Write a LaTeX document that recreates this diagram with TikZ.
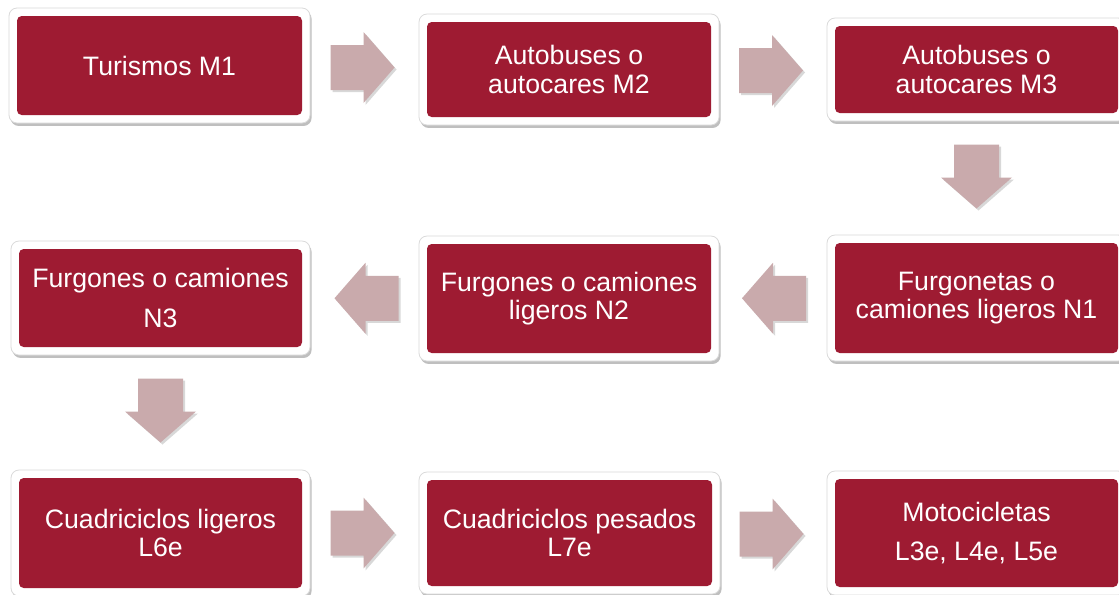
\documentclass[tikz,border=0pt]{standalone}
\usepackage{fontspec}
\setmainfont{Liberation Sans}
\usetikzlibrary{calc,shadows}
\definecolor{boxred}{RGB}{158,27,50}
\definecolor{arrowpink}{RGB}{201,170,172}
\definecolor{rimgray}{RGB}{218,218,218}
\tikzset{
  outerbox/.style={fill=white, draw=rimgray, line width=0.6pt, rounded corners=6pt,
    drop shadow={shadow xshift=1.2pt, shadow yshift=-2.2pt, opacity=0.45, fill=black!55}},
  innerbox/.style={fill=boxred, rounded corners=3.5pt, text=white, align=center,
    inner sep=0pt, font=\fontsize{20}{21.5}\selectfont},
  widelines/.style={font=\fontsize{20}{29.5}\selectfont},
  blockarrow/.style={fill=arrowpink,
    drop shadow={shadow xshift=1.5pt, shadow yshift=-1.5pt, opacity=0.3, fill=black!50}},
}
% #1 options, #2 name, #3 x1, #4 y1, #5 x2, #6 y2, #7 text
\newcommand\catbox[7][]{%
  \path[outerbox] (#3-8,#4-8) rectangle (#5+8,#6+8);
  \node[innerbox, #1, minimum width={(#5-#3)*0.75pt}, minimum height={(#6-#4)*0.75pt}]
    (#2) at ({(#3+#5)/2},{(#4+#6)/2}) {#7};
}
\newcommand\rarrow[1]{\path[blockarrow, shift={#1}] (-32,-22.5) -- (1,-22.5) -- (1,-35.5) -- (32,0) -- (1,35.5) -- (1,22.5) -- (-32,22.5) -- cycle;}
\newcommand\larrow[1]{\path[blockarrow, shift={#1}] (32,-22.5) -- (-1,-22.5) -- (-1,-35.5) -- (-32,0) -- (-1,35.5) -- (-1,22.5) -- (32,22.5) -- cycle;}
\newcommand\darrow[1]{\path[blockarrow, shift={#1}] (-22.5,-32) -- (-22.5,1) -- (-35.5,1) -- (0,32) -- (35.5,1) -- (22.5,1) -- (22.5,-32) -- cycle;}
\begin{document}
\begin{tikzpicture}[x=0.75pt,y=-0.75pt]
  \fill[white] (0,0) rectangle (1119,594);
  \useasboundingbox (0,0) rectangle (1119,594);
  \catbox{m1}{17}{16}{302}{115}{Turismos M1}
  \catbox{m2}{427}{22}{711}{117}{Autobuses o\\autocares M2}
  \catbox{m3}{835}{26}{1118}{113}{Autobuses o\\autocares M3}
  \catbox{n1}{835}{243}{1118}{353}{Furgonetas o\\camiones ligeros N1}
  \catbox{n2}{427}{244}{711}{353}{Furgones o camiones\\ligeros N2}
  \catbox[widelines]{n3}{19}{249}{302}{347}{Furgones o camiones\\N3}
  \catbox{l6}{19}{478}{302}{588}{Cuadriciclos ligeros\\L6e}
  \catbox{l7}{427}{480}{712}{586}{Cuadriciclos pesados\\L7e}
  \catbox[widelines]{mo}{835}{479}{1118}{587}{Motocicletas\\L3e, L4e, L5e}
  \rarrow{($(m1.east)!.5!(m2.west)+(-2,0)$)}
  \rarrow{($(m2.east)!.5!(m3.west)+(-2,1)$)}
  \darrow{($(m3.south)!.5!(n1.north)+(0,-1.5)$)}
  \larrow{($(n1.west)!.5!(n2.east)+(1,0)$)}
  \larrow{($(n2.west)!.5!(n3.east)+(2,0)$)}
  \darrow{($(n3.south)!.5!(l6.north)+(0,-2)$)}
  \rarrow{($(l6.east)!.5!(l7.west)+(-2,0)$)}
  \rarrow{($(l7.east)!.5!(mo.west)+(-2,1)$)}
\end{tikzpicture}
\end{document}
